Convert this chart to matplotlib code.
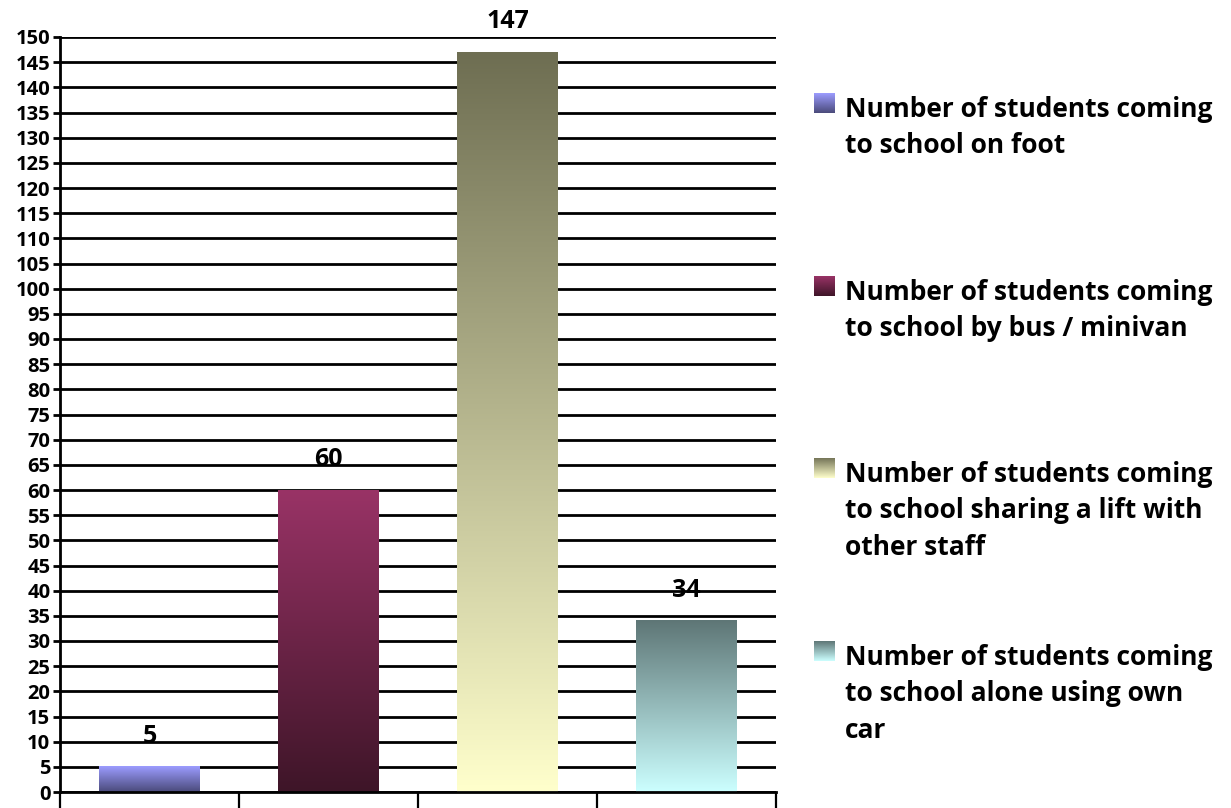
import numpy as np
import matplotlib
matplotlib.use("Agg")
import matplotlib.pyplot as plt
from matplotlib.colors import LinearSegmentedColormap

categories = ["Number of students coming\nto school on foot",
              "Number of students coming\nto school by bus / minivan",
              "Number of students coming\nto school sharing a lift with\nother staff",
              "Number of students coming\nto school alone using own\ncar"]
values = [5, 60, 147, 34]
top_colors = ["#9c9cff", "#993366", "#6e6e52", "#5e7676"]
bottom_colors = ["#4a4a7a", "#3e1528", "#ffffcc", "#ccffff"]
yticks = list(range(0, 151, 5))

FONT = "Open Sans"
plt.rcParams['font.family'] = [FONT, 'DejaVu Sans']

fig = plt.figure(figsize=(12.31, 8.08), dpi=100)
ax = fig.add_axes([60/1231, 16/808, 716/1231, 755/808])
x = np.arange(len(values))
bars = ax.bar(x, values, width=0.56, color='none', edgecolor='none', zorder=3)

grad = np.linspace(0, 1, 256).reshape(-1, 1)
for b, tc, bc, v in zip(bars, top_colors, bottom_colors, values):
    cmap = LinearSegmentedColormap.from_list('g', [bc, tc])
    x0, w, h = b.get_x(), b.get_width(), b.get_height()
    ax.imshow(grad, cmap=cmap, origin='lower', aspect='auto',
              extent=[x0, x0 + w, 0, h], zorder=3, interpolation='bicubic')
    ax.annotate(str(v), (x0 + w/2, h), xytext=(0, 22), textcoords='offset points',
                ha='center', va='center', fontsize=18, fontweight='bold', zorder=4)

ax.set_xlim(-0.5, 3.5)
ax.set_ylim(0, 150)
ax.set_yticks(yticks)
ax.set_yticklabels([str(t) for t in yticks], fontsize=14.5, fontweight='bold')
ax.set_xticks(np.arange(-0.5, 4.0, 1.0))
ax.set_xticklabels([])
ax.tick_params(axis='x', length=12, width=1.6, direction='out')
ax.tick_params(axis='y', length=5, width=2, direction='out', pad=2)
ax.yaxis.grid(True, color='black', linewidth=2, zorder=1)
ax.set_axisbelow(True)
for s in ['top', 'right']:
    ax.spines[s].set_visible(False)
for s in ['left', 'bottom']:
    ax.spines[s].set_linewidth(2)
    ax.spines[s].set_zorder(5)

# legend
leg_y = [107, 290, 472, 655]
for lab, tc, bc, yy in zip(categories, top_colors, bottom_colors, leg_y):
    lax = fig.add_axes([814/1231, 1 - (yy + 6)/808, 21/1231, 20/808])
    cmap = LinearSegmentedColormap.from_list('g', [bc, tc])
    lax.imshow(grad, cmap=cmap, origin='lower', aspect='auto')
    lax.axis('off')
    fig.text(845/1231, 1 - (yy - 11)/808, lab, fontsize=19, fontweight='bold',
             ha='left', va='top', linespacing=1.45)

fig.savefig('out.png', dpi=100)
